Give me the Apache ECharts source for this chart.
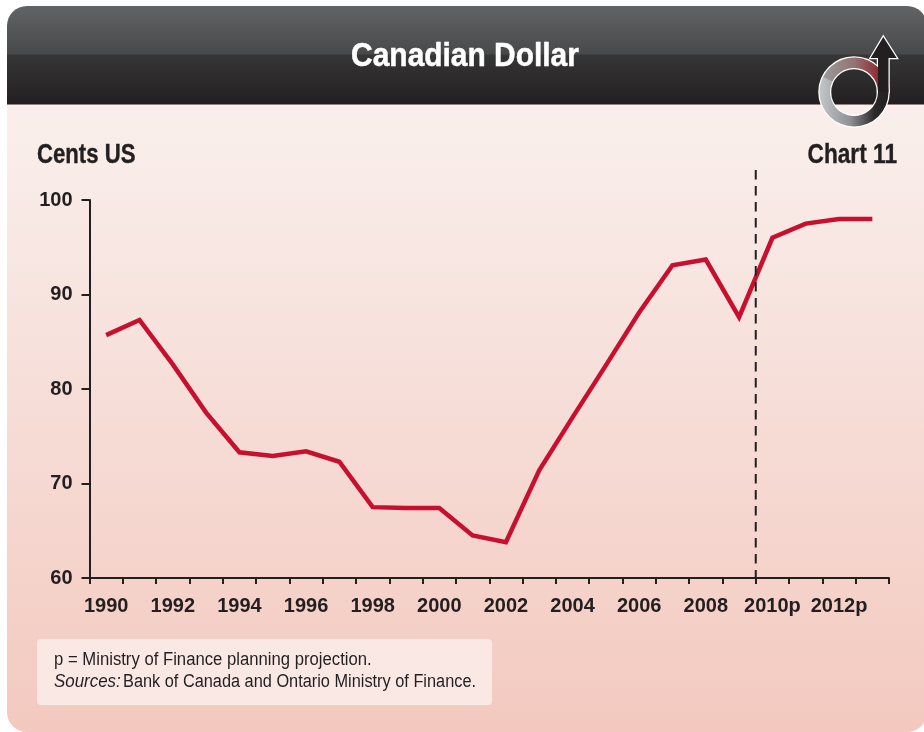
<!DOCTYPE html>
<html><head><meta charset="utf-8">
<style>html,body{margin:0;padding:0;background:#fff}#c{width:924px;height:732px}</style>
<script src="https://cdn.jsdelivr.net/npm/echarts@6/dist/echarts.min.js"></script>
</head><body><div id="c"></div>
<script>
const years=['1990','1991','1992','1993','1994','1995','1996','1997','1998','1999','2000','2001','2002','2003','2004','2005','2006','2007','2008','2009','2010p','2011','2012p','2013'];
const cents=[85.7,87.3,82.6,77.5,73.3,72.9,73.4,72.3,67.5,67.4,67.4,64.5,63.8,71.4,77.0,82.5,88.1,93.1,93.7,87.6,96,97.5,98,98];
const yTicks=[60,70,80,90,100];
const titleText='Canadian Dollar';
const unitText='Cents US';
const chartNo='Chart 11';
const noteLine='p = Ministry of Finance planning projection.';
const sourceLabel='Sources:';
const sourceText='Bank of Canada and Ontario Ministry of Finance.';
const F='"Liberation Sans",Arial,sans-serif';
const ink='#231f20';
const lin=(a,b,stops)=>({type:'linear',x:a[0],y:a[1],x2:b[0],y2:b[1],colorStops:stops.map(s=>({offset:s[0],color:s[1]}))});
const chart=echarts.init(document.getElementById('c'),null,{renderer:'canvas'});
const labelled=new Set(['1990','1992','1994','1996','1998','2000','2002','2004','2006','2008','2010p','2012p']);
const cx=854,cy=92,Ro=34.5,Ri=24;
const deg=d=>d*Math.PI/180;
const arrowPts=[[883.3,37],[896.7,58],[888.5,58],[888.5,92],[878,92],[878,58],[870.7,58]];
const txt=(x,y,sx,text,font,align,extra)=>({type:'text',z:5,x,y,scaleX:sx,style:Object.assign({x:0,y:0,text,fill:ink,font:font+' '+F,align:align||'left',verticalAlign:'middle'},extra||{})});
const bg=[
 {type:'rect',z:-10,shape:{x:7,y:6,width:920,height:726,r:20},style:{fill:lin([0,0],[0,1],[[0,'#fbf1ee'],[0.2,'#f9edea'],[1,'#f3c9bf']])}},
 {type:'rect',z:-9,shape:{x:7,y:6,width:920,height:98,r:[20,20,0,0]},style:{fill:lin([0,0],[0,1],[[0,'#626365'],[0.49,'#48494b'],[0.5,'#363636'],[1,'#231f20']])}},
 {type:'rect',z:-9,shape:{x:7,y:104,width:920,height:1},style:{fill:'#8f8280'}},
 {type:'rect',z:-8,shape:{x:37,y:639,width:455,height:66,r:4},style:{fill:'#f9e8e4'}},
 {type:'text',z:5,x:465,y:57,scaleX:.88,style:{x:0,y:0,text:titleText,fill:'#fff',stroke:'#fff',lineWidth:.5,font:'bold 34px '+F,align:'center',verticalAlign:'middle'}},
 txt(37,156,.82,unitText,'bold 27px','left',{stroke:ink,lineWidth:.4}),
 txt(897,156,.84,chartNo,'bold 27px','right',{stroke:ink,lineWidth:.4}),
 txt(54,660,.927,noteLine,'18px'),
 txt(54,682,.94,sourceLabel,'italic 18px'),
 txt(123,682,.907,sourceText,'18px'),
 // logo
 {type:'ring',z:6,shape:{cx,cy,r:Ro,r0:Ri},style:{fill:'#b8b9bc',stroke:'#fff',lineWidth:2.5}},
 {type:'polygon',z:6,shape:{points:arrowPts},style:{fill:'#231f20',stroke:'#fff',lineWidth:2.5,lineJoin:'miter'}},
 {type:'sector',z:7,shape:{cx,cy,r:Ro,r0:Ri,startAngle:deg(0),endAngle:deg(206)},style:{fill:lin([0,0],[1,0],[[0,'#c3c5c8'],[0.45,'#8f9093'],[0.8,'#2b2829'],[1,'#231f20']])}},
 {type:'sector',z:7,shape:{cx,cy,r:Ro,r0:Ri,startAngle:deg(206),endAngle:deg(360)},style:{fill:lin([0,0],[1,0],[[0,'#9a9a9c'],[0.5,'#94706f'],[0.85,'#8e2b30'],[1,'#8e2b30']])}},
 {type:'polygon',z:8,shape:{points:arrowPts},style:{fill:'#231f20'}},
];
const option={
 animation:false,
 backgroundColor:'#fff',
 grid:{left:89.5,right:35,top:200,bottom:154,containLabel:false},
 xAxis:{type:'category',data:years,boundaryGap:true,
  axisLine:{onZero:false,lineStyle:{color:ink,width:2}},
  axisTick:{show:true,alignWithLabel:false,length:6,interval:0,lineStyle:{color:ink,width:2}},
  axisLabel:{interval:0,margin:18,color:ink,fontFamily:F,fontWeight:'bold',fontSize:20,formatter:v=>labelled.has(v)?v:''},
  splitLine:{show:false}},
 yAxis:{type:'value',min:yTicks[0],max:yTicks[yTicks.length-1],interval:10,
  axisLine:{show:true,lineStyle:{color:ink,width:2}},
  axisTick:{show:true,length:8,lineStyle:{color:ink,width:2}},
  axisLabel:{margin:17,color:ink,fontFamily:F,fontWeight:'bold',fontSize:20},
  splitLine:{show:false}},
 series:[{type:'line',data:cents,symbol:'none',smooth:false,clip:false,z:3,lineStyle:{color:'#c8102e',width:4.5,join:'miter'}}],
 graphic:bg
};
chart.setOption(option);
// dashed projection divider on the band boundary between 2009 and 2010p
const xa=chart.convertToPixel({xAxisIndex:0},'2010p');
const xb=chart.convertToPixel({xAxisIndex:0},'2009');
const xDiv=(xa+xb)/2;
const y0=chart.convertToPixel({yAxisIndex:0},yTicks[0]);
option.graphic=bg.concat([{type:'line',z:4,shape:{x1:xDiv,y1:170,x2:xDiv,y2:y0},style:{stroke:ink,lineWidth:2,lineDash:[9.5,6.5]}}]);
chart.setOption(option,true);
</script></body></html>
